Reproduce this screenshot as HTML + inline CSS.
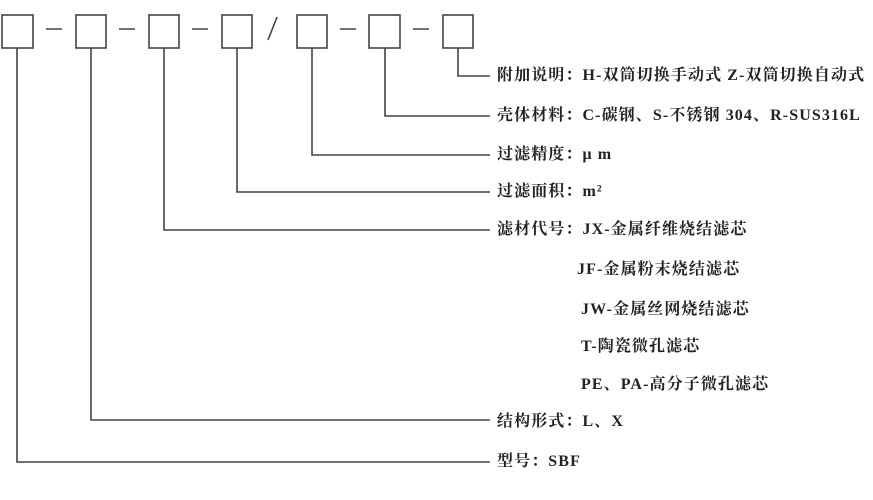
<!DOCTYPE html>
<html><head><meta charset="utf-8"><style>
body{margin:0;width:873px;height:500px;background:#fff;overflow:hidden;position:relative}
svg{position:absolute;left:0;top:0}
.t{position:absolute;font-family:"Liberation Serif","Noto Serif CJK SC",serif;font-weight:bold;font-size:16px;letter-spacing:1.1px;color:#222;white-space:nowrap;line-height:18px}
</style></head><body>
<svg width="873" height="500" stroke="#444" stroke-width="1.6" fill="none">
<rect x="2" y="15" width="31" height="33"/>
<rect x="76" y="15" width="30" height="33"/>
<rect x="149" y="15" width="30" height="33"/>
<rect x="222" y="15" width="30" height="33"/>
<rect x="297" y="15" width="30" height="33"/>
<rect x="369" y="15" width="31" height="33"/>
<rect x="443" y="15" width="30" height="33"/>
<path d="M46 29H62M119 29H135M192 29H208M340 29H356M413 29H429M277 17L268 40"/>
<path d="M458 48V76H490M385 48V116H490M312 48V155H490M237 48V192H490M164 48V230H490M91 48V420H490M17 48V462H490"/>
</svg>
<div class="t" style="left:497px;top:67px">附加说明：H-双筒切换手动式 Z-双筒切换自动式</div>
<div class="t" style="left:497px;top:107px">壳体材料：C-碳钢、S-不锈钢 304、R-SUS316L</div>
<div class="t" style="left:497px;top:146px">过滤精度：μ m</div>
<div class="t" style="left:497px;top:183px">过滤面积：m²</div>
<div class="t" style="left:497px;top:221px">滤材代号：JX-金属纤维烧结滤芯</div>
<div class="t" style="left:577px;top:261px">JF-金属粉末烧结滤芯</div>
<div class="t" style="left:581px;top:301px">JW-金属丝网烧结滤芯</div>
<div class="t" style="left:581px;top:338px">T-陶瓷微孔滤芯</div>
<div class="t" style="left:581px;top:376px">PE、PA-高分子微孔滤芯</div>
<div class="t" style="left:497px;top:413px">结构形式：L、X</div>
<div class="t" style="left:497px;top:453px">型号：SBF</div>
</body></html>
